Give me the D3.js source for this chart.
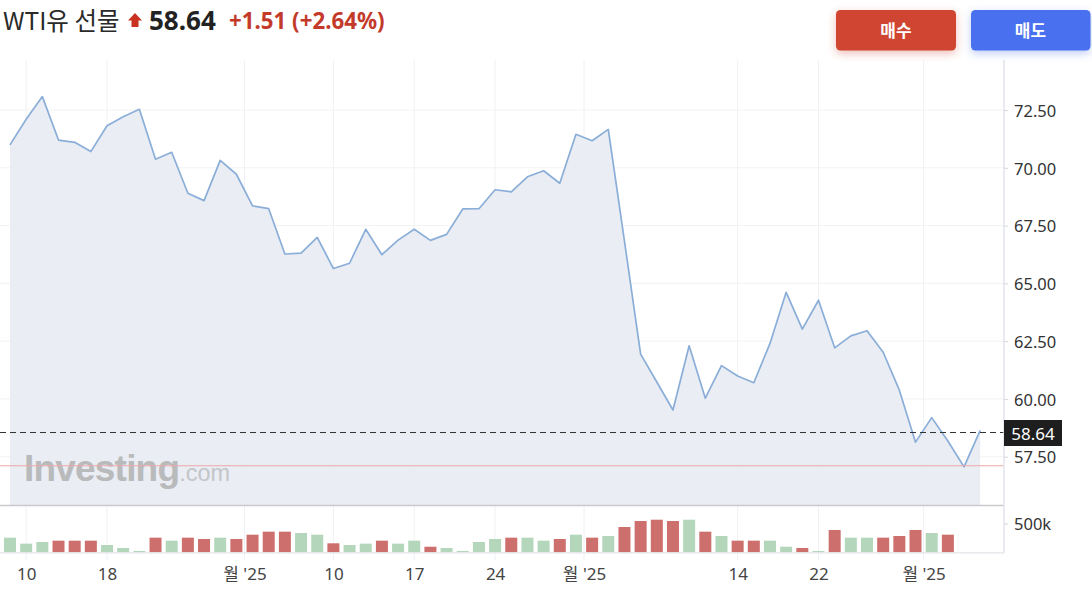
<!DOCTYPE html>
<html><head><meta charset="utf-8">
<script src="https://cdn.jsdelivr.net/npm/d3@7"></script>
<style>
html,body{margin:0;padding:0;background:#fff;}
svg{display:block;font-family:"Noto Sans","Noto Sans CJK KR",sans-serif;}
</style></head>
<body><svg id="c" width="1092" height="591"></svg>
<script>
// ---- data ----
const title = "WTI유 선물";
const lastPrice = 58.64;
const change = "+1.51 (+2.64%)";
const prevClose = 57.13;
const prices = [70.99,72.10,73.08,71.20,71.10,70.70,71.82,72.21,72.53,70.37,
  70.67,68.90,68.58,70.32,69.72,68.35,68.23,66.27,66.31,66.99,
  65.64,65.87,67.34,66.24,66.87,67.34,66.86,67.12,68.22,68.23,
  69.05,68.96,69.61,69.87,69.33,71.45,71.17,71.66,66.83,61.94,
  60.73,59.52,62.30,60.03,61.44,60.99,60.70,62.40,64.61,63.02,
  64.27,62.21,62.73,62.95,62.02,60.38,58.13,59.19,58.18,57.06,58.64];
const volumes = [254,150,179,202,202,202,127,75,23,254,
  202,254,231,254,231,306,358,358,335,306,
  156,127,150,202,150,202,97,75,23,179,
  231,254,254,202,231,306,254,283,439,543,
  566,543,566,358,283,202,202,202,97,75,
  23,387,254,254,254,283,387,335,306]; // thousands
const priceTicks = [57.5,60,62.5,65,67.5,70,72.5];
const volTicks = [500];
const dateTickIdx = [1,6,14.5,20,25,30,35.5,45,50,56.5];
const dateTickLabels = ["10","18","월 '25","10","17","24","월 '25","14","22","월 '25"];

// ---- layout ----
const svg = d3.select("#c");
const axisX = 1004;
const x = d3.scaleLinear().domain([0, prices.length-1]).range([10, 980.2]);
const y = d3.scaleLinear().domain([57.5, 72.5]).range([456.7, 110]);
const priceBottom = 505;
const volBase = 552.3;
const yv = d3.scaleLinear().domain([0, 500]).range([volBase, 523.5]);

const defs = svg.append("defs");
const f1 = defs.append("filter").attr("id","shR").attr("x","-30%").attr("y","-40%").attr("width","160%").attr("height","200%");
f1.append("feDropShadow").attr("dx",0).attr("dy",3).attr("stdDeviation",4).attr("flood-color","#cf4531").attr("flood-opacity",0.35);
const f2 = defs.append("filter").attr("id","shB").attr("x","-30%").attr("y","-40%").attr("width","160%").attr("height","200%");
f2.append("feDropShadow").attr("dx",0).attr("dy",3).attr("stdDeviation",4).attr("flood-color","#4a6fee").attr("flood-opacity",0.35);

// gridlines horizontal
svg.append("g").selectAll("line").data(priceTicks).join("line")
  .attr("x1",0).attr("x2",axisX).attr("y1",d=>y(d)).attr("y2",d=>y(d))
  .attr("stroke","#f2f3f5").attr("stroke-width",1);
// gridlines vertical
svg.append("g").selectAll("line").data(dateTickIdx).join("line")
  .attr("x1",d=>x(d)).attr("x2",d=>x(d)).attr("y1",60).attr("y2",560)
  .attr("stroke","#f0f1f4").attr("stroke-width",1);

// area + line
const area = d3.area().x((d,i)=>x(i)).y0(priceBottom).y1(d=>y(d));
svg.append("path").datum(prices).attr("d",area).attr("fill","#e8ecf2").attr("opacity",0.92);
const line = d3.line().x((d,i)=>x(i)).y(d=>y(d));
svg.append("path").datum(prices).attr("d",line).attr("fill","none")
  .attr("stroke","#8aaed8").attr("stroke-width",1.7).attr("stroke-linejoin","round");

// watermark
const wm = svg.append("text").attr("x",24).attr("y",481);
wm.append("tspan").text("Investing").attr("font-family","Arial, 'Liberation Sans', sans-serif").attr("font-weight","bold").attr("font-size",37).attr("fill","#b9babc").attr("letter-spacing",-0.8);
wm.append("tspan").text(".com").attr("font-family","Arial, 'Liberation Sans', sans-serif").attr("font-size",23.5).attr("fill","#c4c5c8");

// prev close red line
svg.append("line").attr("x1",0).attr("x2",axisX).attr("y1",y(prevClose)+0.5).attr("y2",y(prevClose)+0.5)
  .attr("stroke","#eda9a9").attr("stroke-width",1.1);
// last price dashed
svg.append("line").attr("x1",0).attr("x2",axisX).attr("y1",432.5).attr("y2",432.5)
  .attr("stroke","#333").attr("stroke-width",1.2).attr("stroke-dasharray","6,4");

// pane separator
svg.append("line").attr("x1",0).attr("x2",axisX).attr("y1",priceBottom+0.5).attr("y2",priceBottom+0.5)
  .attr("stroke","#c9cacd").attr("stroke-width",1.6);

// volume bars
svg.append("g").selectAll("rect").data(volumes).join("rect")
  .attr("x",(d,i)=>x(i)-6).attr("width",12)
  .attr("y",d=>yv(d)).attr("height",d=>volBase-yv(d))
  .attr("fill",(d,i)=> (i===0 || prices[i]>=prices[i-1]) ? "#b4d6bb" : "#cc6f6d");
svg.append("line").attr("x1",0).attr("x2",axisX).attr("y1",volBase+0.5).attr("y2",volBase+0.5)
  .attr("stroke","#e3e5ea").attr("stroke-width",1.2);

// right axis
svg.append("line").attr("x1",axisX).attr("x2",axisX).attr("y1",60).attr("y2",553)
  .attr("stroke","#e2e4ec").attr("stroke-width",1.5);
const ra = svg.append("g").attr("transform",`translate(${axisX},1)`)
  .call(d3.axisRight(y).tickValues(priceTicks).tickFormat(d3.format(".2f")).tickSize(4).tickPadding(6));
ra.select(".domain").remove();
ra.selectAll(".tick line").attr("stroke","#d5d7dd").attr("transform","translate(0,-1)");
ra.selectAll("text").attr("font-size",16.5).attr("fill","#333").attr("font-family","'Noto Sans',sans-serif");
const va = svg.append("g").attr("transform",`translate(${axisX},1)`)
  .call(d3.axisRight(yv).tickValues(volTicks).tickFormat(d=>d+"k").tickSize(4).tickPadding(6));
va.select(".domain").remove();
va.selectAll(".tick line").attr("stroke","#d5d7dd").attr("transform","translate(0,-1)");
va.selectAll("text").attr("font-size",16.5).attr("fill","#333").attr("font-family","'Noto Sans',sans-serif");

// last price label
svg.append("rect").attr("x",1004).attr("y",420).attr("width",58).attr("height",26).attr("fill","#1e1e1e");
svg.append("text").attr("x",1033).attr("y",439.5).attr("text-anchor","middle")
  .attr("font-size",17).attr("fill","#fff").text(lastPrice.toFixed(2));

// bottom axis
const ba = svg.append("g").attr("transform",`translate(0,${volBase})`)
  .call(d3.axisBottom(x).tickValues(dateTickIdx).tickFormat((d,i)=>dateTickLabels[i]).tickSize(0).tickPadding(16));
ba.select(".domain").remove();
ba.selectAll("text").attr("font-size",17).attr("fill","#444").attr("font-family","'Noto Sans','Noto Sans CJK KR',sans-serif");

// header
const h = svg.append("text").attr("x",3).attr("y",30);
h.append("tspan").text(title).attr("font-size",24.5).attr("fill","#2a2a2a").attr("font-family","'Noto Sans CJK KR',sans-serif");
svg.append("path").attr("d","M135,13 L142,20.5 L138.5,20.5 L138.5,27 L131.5,27 L131.5,20.5 L128,20.5 Z").attr("fill","#c8321f");
svg.append("text").attr("x",149).attr("y",30).attr("font-size",26).attr("font-weight","bold").attr("fill","#222").text(lastPrice.toFixed(2));
svg.append("text").attr("x",229).attr("y",28.5).attr("font-size",22.3).attr("font-weight","bold").attr("fill","#c43a2a").text(change);

// buttons
svg.append("rect").attr("x",836).attr("y",10).attr("width",120).attr("height",40.5).attr("rx",4.5).attr("fill","#cf4531").attr("filter","url(#shR)");
svg.append("rect").attr("x",971).attr("y",10).attr("width",119.5).attr("height",40.5).attr("rx",4.5).attr("fill","#4a6fee").attr("filter","url(#shB)");
svg.append("text").attr("x",896).attr("y",36.5).attr("text-anchor","middle").attr("font-size",17).attr("font-weight","bold").attr("fill","#fff").attr("font-family","'Noto Sans CJK KR',sans-serif").text("매수");
svg.append("text").attr("x",1030.5).attr("y",36.5).attr("text-anchor","middle").attr("font-size",17).attr("font-weight","bold").attr("fill","#fff").attr("font-family","'Noto Sans CJK KR',sans-serif").text("매도");
</script></body></html>
